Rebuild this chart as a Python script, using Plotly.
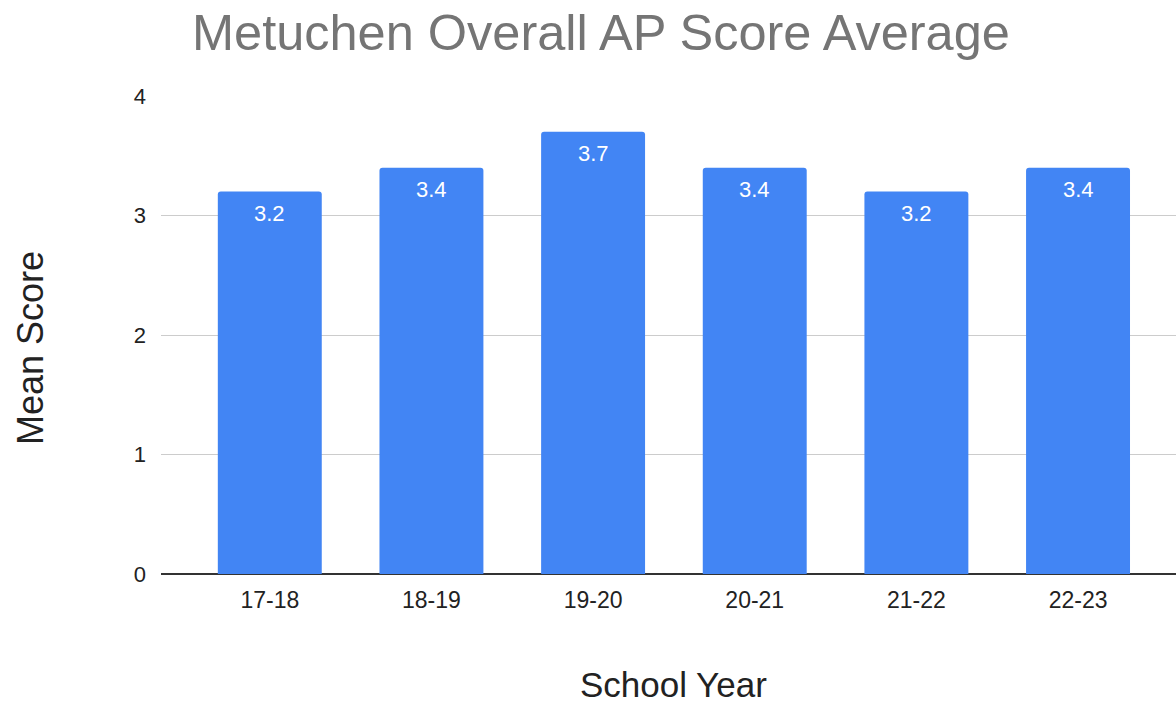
import plotly.graph_objects as go

years = ["17-18", "18-19", "19-20", "20-21", "21-22", "22-23"]
mean_scores = [3.2, 3.4, 3.7, 3.4, 3.2, 3.4]
labels = ["3.2", "3.4", "3.7", "3.4", "3.2", "3.4"]
y_ticks = [0, 1, 2, 3, 4]

W, H = 1176, 702
FONT = "Liberation Sans, Arial, sans-serif"
xs = list(range(len(years)))

fig = go.Figure(
    go.Bar(
        x=xs,
        y=mean_scores,
        marker=dict(color="#4285F4", line=dict(width=0), cornerradius=3),
        hoverinfo="skip",
    )
)

annotations = [
    dict(
        x=x, y=v, xref="x", yref="y", text=t,
        yanchor="top", xanchor="center", yshift=-7, showarrow=False,
        font=dict(size=22, color="white", family=FONT),
    )
    for x, v, t in zip(xs, mean_scores, labels)
]

annotations += [
    dict(
        text="Mean Score",
        xref="paper",
        yref="paper",
        x=(30 - 161) / (W - 161),
        y=(574 - 348) / (574 - 96),
        xanchor="center",
        yanchor="middle",
        textangle=-90,
        showarrow=False,
        font=dict(size=36, color="#222222", family=FONT),
    ),
    dict(
        text="School Year",
        xref="paper",
        yref="paper",
        x=(673 - 161) / (W - 161),
        y=-(684 - 574) / (574 - 96),
        xanchor="center",
        yanchor="middle",
        height=30,
        valign="middle",
        borderpad=0,
        showarrow=False,
        font=dict(size=35, color="#222222", family=FONT),
    ),
]

fig.update_layout(
    width=W,
    height=H,
    margin=dict(l=161, r=0, t=96, b=128),
    paper_bgcolor="white",
    plot_bgcolor="white",
    bargap=0.357,
    showlegend=False,
    font=dict(family=FONT, color="#222222"),
    title=dict(
        text="Metuchen Overall AP Score Average",
        font=dict(size=50.5, color="#757575", family=FONT),
        x=192 / W,
        xref="container",
        xanchor="left",
        y=1 - 32 / H,
        yref="container",
        yanchor="middle",
    ),
    xaxis=dict(
        tickmode="array",
        tickvals=xs,
        ticktext=years,
        range=[-0.673, 5.606],
        showgrid=False,
        showline=False,
        zeroline=False,
        ticks="",
        tickfont=dict(size=23, color="#222222"),
        ticklabelstandoff=10,
    ),
    yaxis=dict(
        range=[0, 4],
        tickvals=y_ticks,
        showgrid=True,
        gridcolor="#cccccc",
        gridwidth=1,
        zeroline=True,
        zerolinecolor="#333333",
        zerolinewidth=2,
        showline=False,
        ticks="",
        tickfont=dict(size=22, color="#222222"),
        ticklabelstandoff=14,
    ),
    annotations=annotations,
)

fig.write_html(
    "out.html",
    config={"displayModeBar": False},
    post_script="document.body.style.margin='0';document.body.style.overflow='hidden';",
)
